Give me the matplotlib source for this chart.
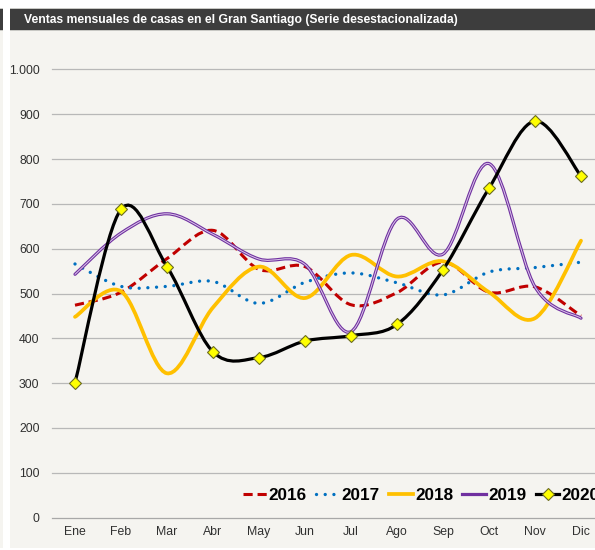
import matplotlib
matplotlib.use("Agg")
import matplotlib.pyplot as plt
from matplotlib.path import Path
from matplotlib.patches import PathPatch, Rectangle
from matplotlib.lines import Line2D
import numpy as np

months = ["Ene", "Feb", "Mar", "Abr", "May", "Jun", "Jul", "Ago", "Sep", "Oct", "Nov", "Dic"]
s2016 = [474, 503, 578, 641, 554, 560, 475, 502, 570, 503, 515, 450]
s2017 = [566, 516, 516, 527, 478, 525, 546, 524, 497, 548, 558, 570]
s2018 = [448, 505, 322, 469, 560, 490, 586, 538, 572, 503, 445, 618]
s2019 = [543, 635, 678, 632, 577, 565, 415, 666, 588, 790, 515, 445]
s2020 = [301, 688, 560, 370, 357, 394, 406, 431, 553, 735, 885, 762]
years = ["2016", "2017", "2018", "2019", "2020"]
yticks = [0, 100, 200, 300, 400, 500, 600, 700, 800, 900, 1000]
ytick_labels = ["0", "100", "200", "300", "400", "500", "600", "700", "800", "900", "1.000"]
title = "Ventas mensuales de casas en el Gran Santiago (Serie desestacionalizada)"

plt.rcParams["font.family"] = ["Liberation Sans", "DejaVu Sans"]

W, H = 595, 550
fig = plt.figure(figsize=(W / 100, H / 100), dpi=100, facecolor="white")

def px_rect(x0, y0, x1, y1, color, z=-5):
    fig.patches.append(Rectangle((x0 / W, 1 - y1 / H), (x1 - x0) / W, (y1 - y0) / H,
                                 transform=fig.transFigure, facecolor=color,
                                 edgecolor="none", zorder=z))

panel = "#f5f4f0"
px_rect(10, 30, 595, 548, panel)
px_rect(0, 30, 3, 548, panel)
px_rect(10, 8, 595, 31, "#c8c8c4")
px_rect(10, 9, 595, 30, "#3d3d3d")
px_rect(0, 8, 3, 31, "#c8c8c4")
px_rect(0, 9, 3, 30, "#3d3d3d")
fig.text(24 / W, 1 - 19.5 / H, title, color="white", fontsize=8.7, fontweight="bold",
         ha="left", va="center")

left, right, top, bottom = 52, 604, 69.5, 517.6
ax = fig.add_axes([left / W, 1 - bottom / H, (right - left) / W, (bottom - top) / H])
ax.set_facecolor("none")
ax.set_xlim(-0.5, 11.5)
ax.set_ylim(0, 1000)
for s in ax.spines.values():
    s.set_visible(False)
ax.set_yticks(yticks)
ax.set_yticklabels(ytick_labels)
ax.set_xticks(range(len(months)))
ax.set_xticklabels(months)
ax.tick_params(length=0, labelsize=8.8, labelcolor="#303030")
ax.tick_params(axis="y", pad=9)
ax.tick_params(axis="x", pad=6)
for yv in yticks:
    ax.axhline(yv, color="#b8b8b8" if yv else "#a8a8a8", lw=0.9, zorder=1, clip_on=False)

def smooth_path(vals):
    x = np.arange(len(vals), dtype=float)
    y = np.asarray(vals, dtype=float)
    P = np.column_stack([x, y])
    Pe = np.vstack([P[0], P, P[-1]])
    verts = [tuple(P[0])]
    codes = [Path.MOVETO]
    for i in range(len(P) - 1):
        p0, p1, p2, p3 = Pe[i], Pe[i + 1], Pe[i + 2], Pe[i + 3]
        c1 = p1 + (p2 - p0) / 6.0
        c2 = p2 - (p3 - p1) / 6.0
        verts += [tuple(c1), tuple(c2), tuple(p2)]
        codes += [Path.CURVE4] * 3
    return Path(verts, codes)

def draw(vals, z, **kw):
    p = PathPatch(smooth_path(vals), fill=False, transform=ax.transData, zorder=z, **kw)
    ax.add_patch(p)

draw(s2016, 3, edgecolor="#c00000", lw=2.2, linestyle=(0, (3.0, 1.6)), capstyle="butt")
draw(s2017, 3, edgecolor="#0070c0", lw=2.4, linestyle=(0, (0.01, 2.6)), capstyle="round")
draw(s2018, 3, edgecolor="#ffc000", lw=2.7, capstyle="round")
draw(s2019, 4, edgecolor="#7030a0", lw=2.3, capstyle="round")
draw(s2019, 4, edgecolor="#dcc9ea", lw=0.7, capstyle="round")
draw(s2020, 5, edgecolor="black", lw=2.3, capstyle="round")
ax.plot(range(12), s2020, linestyle="none", marker="D", markersize=6.5,
        markerfacecolor="#ffff00", markeredgecolor="#6b6b20", markeredgewidth=0.8, zorder=6)

handles = [
    Line2D([], [], color="#c00000", lw=2.2, linestyle=(0, (3.0, 1.6))),
    Line2D([], [], color="#0070c0", lw=2.4, linestyle=(0, (0.01, 2.6)), dash_capstyle="round"),
    Line2D([], [], color="#ffc000", lw=2.7),
    Line2D([], [], color="#7030a0", lw=2.3),
    Line2D([], [], color="black", lw=2.3, marker="D", markersize=6.5,
           markerfacecolor="#ffff00", markeredgecolor="#6b6b20", markeredgewidth=0.8),
]
leg = fig.legend(handles, years, loc="center left",
                 bbox_to_anchor=(243 / W, 1 - 495 / H), ncol=5, frameon=False,
                 handlelength=1.4, handletextpad=0.1, columnspacing=0.55,
                 borderpad=0, borderaxespad=0,
                 prop={"weight": "bold", "size": 12.3})

fig.savefig("out.png", dpi=100, facecolor="white")
